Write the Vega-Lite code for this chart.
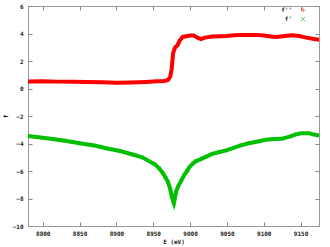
{
  "$schema": "https://vega.github.io/schema/vega-lite/v6.json",
  "width": 291,
  "height": 220,
  "autosize": "none",
  "padding": {"left": 28, "top": 6, "right": 11, "bottom": 21},
  "background": "white",
  "config": {
    "view": {"stroke": "#999999", "strokeWidth": 1},
    "font": "DejaVu Sans Mono",
    "axis": {
      "domain": false,
      "grid": false,
      "tickSize": -4,
      "tickColor": "#888888",
      "labelFont": "DejaVu Sans Mono",
      "labelFontSize": 6,
      "labelFontWeight": "bold",
      "labelColor": "#222222",
      "titleFont": "DejaVu Sans Mono",
      "titleFontSize": 6,
      "titleFontWeight": "bold",
      "titleColor": "#222222"
    },
    "legend": {
      "labelFont": "DejaVu Sans Mono", "labelFontSize": 6, "labelFontWeight": "bold",
      "labelColor": "#222222"
    }
  },
  "data": {
    "values": [
      {"E": 8780, "value": 0.50, "series": "f''"},
      {"E": 8800, "value": 0.52, "series": "f''"},
      {"E": 8820, "value": 0.50, "series": "f''"},
      {"E": 8840, "value": 0.50, "series": "f''"},
      {"E": 8860, "value": 0.48, "series": "f''"},
      {"E": 8880, "value": 0.45, "series": "f''"},
      {"E": 8900, "value": 0.42, "series": "f''"},
      {"E": 8920, "value": 0.44, "series": "f''"},
      {"E": 8940, "value": 0.48, "series": "f''"},
      {"E": 8955, "value": 0.52, "series": "f''"},
      {"E": 8965, "value": 0.55, "series": "f''"},
      {"E": 8970, "value": 0.62, "series": "f''"},
      {"E": 8973, "value": 0.85, "series": "f''"},
      {"E": 8975, "value": 1.4, "series": "f''"},
      {"E": 8976, "value": 2.0, "series": "f''"},
      {"E": 8977, "value": 2.55, "series": "f''"},
      {"E": 8978, "value": 2.75, "series": "f''"},
      {"E": 8980, "value": 3.0, "series": "f''"},
      {"E": 8983, "value": 3.15, "series": "f''"},
      {"E": 8986, "value": 3.5, "series": "f''"},
      {"E": 8990, "value": 3.75, "series": "f''"},
      {"E": 8995, "value": 3.8, "series": "f''"},
      {"E": 9000, "value": 3.85, "series": "f''"},
      {"E": 9005, "value": 3.85, "series": "f''"},
      {"E": 9010, "value": 3.7, "series": "f''"},
      {"E": 9015, "value": 3.6, "series": "f''"},
      {"E": 9020, "value": 3.7, "series": "f''"},
      {"E": 9030, "value": 3.78, "series": "f''"},
      {"E": 9040, "value": 3.8, "series": "f''"},
      {"E": 9050, "value": 3.82, "series": "f''"},
      {"E": 9060, "value": 3.88, "series": "f''"},
      {"E": 9070, "value": 3.9, "series": "f''"},
      {"E": 9080, "value": 3.9, "series": "f''"},
      {"E": 9090, "value": 3.9, "series": "f''"},
      {"E": 9100, "value": 3.85, "series": "f''"},
      {"E": 9110, "value": 3.78, "series": "f''"},
      {"E": 9118, "value": 3.75, "series": "f''"},
      {"E": 9128, "value": 3.82, "series": "f''"},
      {"E": 9138, "value": 3.88, "series": "f''"},
      {"E": 9148, "value": 3.82, "series": "f''"},
      {"E": 9158, "value": 3.7, "series": "f''"},
      {"E": 9168, "value": 3.6, "series": "f''"},
      {"E": 9175, "value": 3.55, "series": "f''"},
      {"E": 8780, "value": -3.45, "series": "f'"},
      {"E": 8800, "value": -3.58, "series": "f'"},
      {"E": 8813, "value": -3.68, "series": "f'"},
      {"E": 8830, "value": -3.8, "series": "f'"},
      {"E": 8850, "value": -3.98, "series": "f'"},
      {"E": 8870, "value": -4.15, "series": "f'"},
      {"E": 8886, "value": -4.35, "series": "f'"},
      {"E": 8905, "value": -4.55, "series": "f'"},
      {"E": 8922, "value": -4.8, "series": "f'"},
      {"E": 8935, "value": -5.0, "series": "f'"},
      {"E": 8945, "value": -5.3, "series": "f'"},
      {"E": 8952, "value": -5.5, "series": "f'"},
      {"E": 8958, "value": -5.8, "series": "f'"},
      {"E": 8963, "value": -6.15, "series": "f'"},
      {"E": 8967, "value": -6.5, "series": "f'"},
      {"E": 8970, "value": -6.8, "series": "f'"},
      {"E": 8973, "value": -7.3, "series": "f'"},
      {"E": 8975, "value": -7.8, "series": "f'"},
      {"E": 8977, "value": -8.2, "series": "f'"},
      {"E": 8978, "value": -8.35, "series": "f'"},
      {"E": 8979, "value": -8.1, "series": "f'"},
      {"E": 8981, "value": -7.5, "series": "f'"},
      {"E": 8984, "value": -7.1, "series": "f'"},
      {"E": 8988, "value": -6.7, "series": "f'"},
      {"E": 8992, "value": -6.3, "series": "f'"},
      {"E": 8996, "value": -6.0, "series": "f'"},
      {"E": 8999, "value": -5.72, "series": "f'"},
      {"E": 9004, "value": -5.45, "series": "f'"},
      {"E": 9008, "value": -5.28, "series": "f'"},
      {"E": 9012, "value": -5.2, "series": "f'"},
      {"E": 9016, "value": -5.1, "series": "f'"},
      {"E": 9022, "value": -4.95, "series": "f'"},
      {"E": 9030, "value": -4.75, "series": "f'"},
      {"E": 9040, "value": -4.62, "series": "f'"},
      {"E": 9049, "value": -4.5, "series": "f'"},
      {"E": 9060, "value": -4.3, "series": "f'"},
      {"E": 9070, "value": -4.12, "series": "f'"},
      {"E": 9080, "value": -3.98, "series": "f'"},
      {"E": 9092, "value": -3.85, "series": "f'"},
      {"E": 9103, "value": -3.73, "series": "f'"},
      {"E": 9114, "value": -3.68, "series": "f'"},
      {"E": 9124, "value": -3.66, "series": "f'"},
      {"E": 9135, "value": -3.5, "series": "f'"},
      {"E": 9145, "value": -3.32, "series": "f'"},
      {"E": 9151, "value": -3.25, "series": "f'"},
      {"E": 9161, "value": -3.25, "series": "f'"},
      {"E": 9168, "value": -3.35, "series": "f'"},
      {"E": 9175, "value": -3.42, "series": "f'"}
    ]
  },
  "resolve": {"axis": {"x": "independent", "y": "independent"}},
  "layer": [
    {
      "mark": {"type": "line", "strokeWidth": 4, "interpolate": "linear", "clip": true},
      "encoding": {
        "x": {"field": "E", "type": "quantitative",
              "scale": {"domain": [8780, 9175], "nice": false, "zero": false},
              "axis": {"title": "E (eV)", "format": "d", "values": [8800, 8850, 8900, 8950, 9000, 9050, 9100, 9150], "labelPadding": 8, "titlePadding": 2}},
        "y": {"field": "value", "type": "quantitative",
              "scale": {"domain": [-10, 6], "nice": false, "zero": false},
              "axis": {"title": "f", "values": [-10, -8, -6, -4, -2, 0, 2, 4, 6], "labelPadding": 9, "titlePadding": 4}},
        "color": {"field": "series", "type": "nominal",
                  "scale": {"domain": ["f''", "f'"], "range": ["#ff0000", "#00c000"]}},
        "detail": {"field": "series"}
      }
    },
    {
      "mark": {"type": "point", "filled": false, "strokeWidth": 1, "size": 12, "clip": true},
      "encoding": {
        "x": {"field": "E", "type": "quantitative",
              "scale": {"domain": [8780, 9175], "nice": false, "zero": false},
              "axis": {"orient": "top", "labels": false, "title": null, "values": [8800, 8850, 8900, 8950, 9000, 9050, 9100, 9150]}},
        "y": {"field": "value", "type": "quantitative",
              "scale": {"domain": [-10, 6], "nice": false, "zero": false},
              "axis": {"orient": "right", "labels": false, "title": null, "values": [-10, -8, -6, -4, -2, 0, 2, 4, 6]}},
        "color": {"field": "series", "type": "nominal",
                  "scale": {"domain": ["f''", "f'"], "range": ["#ff0000", "#00c000"]},
                  "legend": {"title": null, "orient": "none", "legendX": 272, "legendY": 1,
                             "labelAlign": "right", "labelOffset": -14,
                             "symbolSize": 20, "symbolStrokeWidth": 1, "rowPadding": -1, "symbolOpacity": 0.6}},
        "shape": {"field": "series", "type": "nominal",
                  "scale": {"domain": ["f''", "f'"], "range": ["M-1,0L1,0M0,-1L0,1", "M-1,-1L1,1M1,-1L-1,1"]}}
      }
    }
  ]
}
